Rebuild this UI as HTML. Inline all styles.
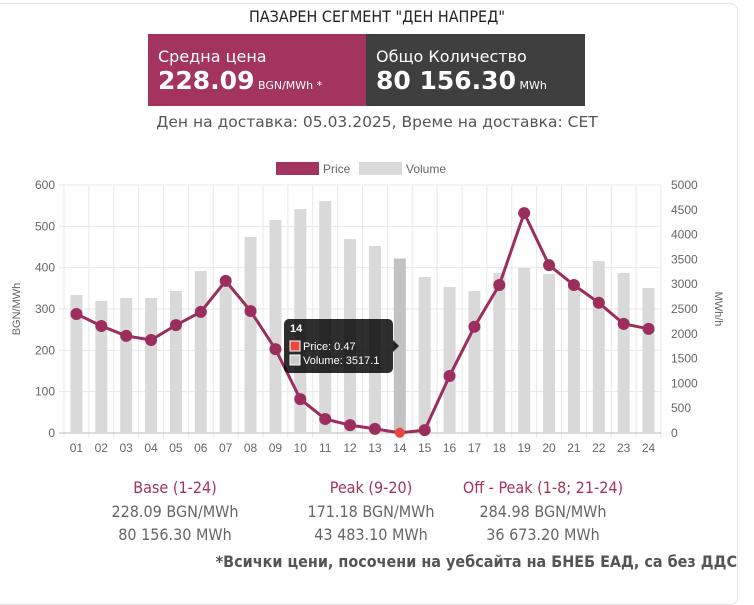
<!DOCTYPE html>
<html><head><meta charset="utf-8"><style>
body{margin:0;width:754px;height:587px;background:#fff;position:relative;overflow:hidden;font-family:"DejaVu Sans","Liberation Sans",sans-serif}
.abs{position:absolute}
.c{font-family:"DejaVu Sans Condensed","DejaVu Sans",sans-serif;font-stretch:condensed}
</style></head><body>
<div class="abs" style="left:-10px;top:3px;width:746px;height:600px;border:1px solid #e4e4e4;border-radius:8px"></div>
<div class="abs c" style="left:0;width:754px;top:7px;text-align:center;font-size:16px;color:#222">ПАЗАРЕН СЕГМЕНТ "ДЕН НАПРЕД"</div>
<div class="abs" style="left:148px;top:34px;width:218px;height:72px;background:#a3335f;color:#fff">
 <div class="abs" style="left:10px;top:13px;font-size:16px">Средна цена</div>
 <div class="abs" style="left:10px;top:32px;white-space:nowrap"><b style="font-size:25px">228.09</b><span style="font-size:11px"> BGN/MWh *</span></div>
</div>
<div class="abs" style="left:366px;top:34px;width:219px;height:72px;background:#3f3f3f;color:#fff">
 <div class="abs" style="left:10px;top:13px;font-size:16px">Общо Количество</div>
 <div class="abs" style="left:10px;top:32px;white-space:nowrap"><b style="font-size:25px">80 156.30</b><span style="font-size:11px"> MWh</span></div>
</div>
<div class="abs" style="left:0;width:754px;top:113px;text-align:center;font-size:15.5px;color:#555">Ден на доставка: 05.03.2025, Време на доставка: CET</div>

<svg class="abs" style="left:0;top:0" width="754" height="470" id="chart" font-family="Liberation Sans, sans-serif"></svg>

<div class="abs c" style="left:75px;width:200px;top:476px;text-align:center;color:#666;font-size:16px;line-height:23.5px"><div style="color:#a3335f">Base (1-24)</div><div>228.09 BGN/MWh</div><div>80 156.30 MWh</div></div>
<div class="abs c" style="left:271px;width:200px;top:476px;text-align:center;color:#666;font-size:16px;line-height:23.5px"><div style="color:#a3335f">Peak (9-20)</div><div>171.18 BGN/MWh</div><div>43 483.10 MWh</div></div>
<div class="abs c" style="left:443px;width:200px;top:476px;text-align:center;color:#666;font-size:16px;line-height:23.5px"><div style="color:#a3335f">Off - Peak (1-8; 21-24)</div><div>284.98 BGN/MWh</div><div>36 673.20 MWh</div></div>
<div class="abs c" style="right:17px;top:552px;font-size:16px;color:#555;font-weight:bold">*Всички цени, посочени на уебсайта на БНЕБ ЕАД, са без ДДС</div>

<script>
const categories=["01","02","03","04","05","06","07","08","09","10","11","12","13","14","15","16","17","18","19","20","21","22","23","24"];
const prices=[288,259,235,225,261,293,368,295,203,82,34,19,10,0.47,7,138,257,358,532,406,358,315,264,252];
const volumes=[2782,2661,2722,2722,2863,3266,3000,3951,4294,4516,4677,3911,3770,3517.1,3145,2943,2863,3226,3326,3205,3020,3467,3226,2923];
const priceTicks=[0,100,200,300,400,500,600];
const volumeTicks=[0,500,1000,1500,2000,2500,3000,3500,4000,4500,5000];
const NS="http://www.w3.org/2000/svg",svg=document.getElementById('chart');
const L=64,R=661,T=185,B=433,cw=(R-L)/categories.length;
const x=i=>L+cw*(i+0.5), yP=v=>B-(v/600)*(B-T), yV=v=>B-(v/5000)*(B-T);
function mk(t,a,p){const e=document.createElementNS(NS,t);for(const k in a)e.setAttribute(k,a[k]);(p||svg).appendChild(e);return e;}
for(let i=0;i<=categories.length;i++){const g=mk('line',{x1:L+cw*i,x2:L+cw*i,y1:T,y2:B+5,stroke:'#e8e8e8'});

}
priceTicks.forEach(v=>{const g=mk('line',{x1:L-5,x2:R,y1:yP(v),y2:yP(v),stroke:v?'#e8e8e8':'#bbb'});


const t=mk('text',{x:L-9,y:yP(v)+4,'text-anchor':'end','font-size':12,fill:'#666'});t.textContent=v;

});
volumeTicks.forEach(v=>{const t=mk('text',{x:R+10,y:yV(v)+4,'font-size':12,fill:'#666'});t.textContent=v;

});
categories.forEach((c,i)=>{const t=mk('text',{x:x(i),y:B+19,'text-anchor':'middle','font-size':12,fill:'#666'});t.textContent=c;


const b=mk('rect',{x:x(i)-6,y:yV(volumes[i]),width:12,height:B-yV(volumes[i]),fill:i==13?'#c2c2c2':'#d9d9d9'});

});
const pl=mk('polyline',{points:prices.map((v,i)=>x(i)+','+yP(v)).join(' '),fill:'none',stroke:'#9c2e5e','stroke-width':3});


prices.forEach((v,i)=>{const p=mk('circle',{cx:x(i),cy:yP(v),r:i==13?5:6,fill:i==13?'#e8473f':'#9c2e5e'});

});
let t=mk('text',{x:0,y:0,transform:'translate(20,309) rotate(-90)','text-anchor':'middle','font-size':11,fill:'#666'});t.textContent='BGN/MWh';


t=mk('text',{x:0,y:0,transform:'translate(715,309) rotate(90)','text-anchor':'middle','font-size':11,fill:'#666'});t.textContent='MWh/h';


// legend
let r=mk('rect',{x:276,y:162,width:43,height:13,fill:'#a3335f'});


t=mk('text',{x:323,y:173,'font-size':12,fill:'#666'});t.textContent='Price';


r=mk('rect',{x:359,y:162,width:43,height:13,fill:'#d9d9d9'});


t=mk('text',{x:406,y:173,'font-size':12,fill:'#666'});t.textContent='Volume';


// tooltip
const g=mk('g',{});


mk('rect',{x:284,y:319,width:109,height:54,rx:5,fill:'rgba(0,0,0,0.82)'},g);
mk('path',{d:'M393,340 l6,6 l-6,6z',fill:'rgba(0,0,0,0.82)'},g);
t=mk('text',{x:290,y:332,'font-size':11,'font-weight':'bold',fill:'#fff'},g);t.textContent=categories[13];
mk('rect',{x:290,y:341,width:10,height:10,fill:'#e8473f',stroke:'#fff'},g);
t=mk('text',{x:303,y:350,'font-size':11,fill:'#fff'},g);t.textContent='Price: '+prices[13];
mk('rect',{x:290,y:355,width:10,height:10,fill:'#ccc',stroke:'#fff'},g);
t=mk('text',{x:303,y:364,'font-size':11,fill:'#fff'},g);t.textContent='Volume: '+volumes[13];
</script>
</body></html>
